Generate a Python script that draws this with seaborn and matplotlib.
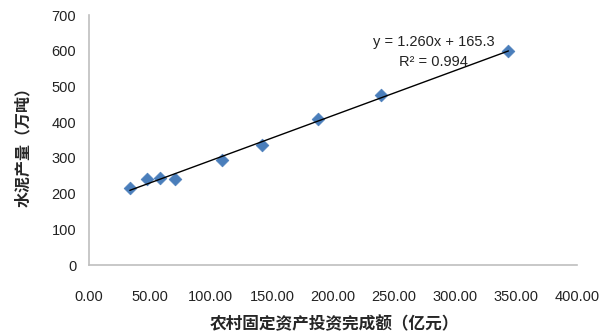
import matplotlib
matplotlib.use("Agg")
import matplotlib.pyplot as plt
import numpy as np
import pandas as pd
import seaborn as sns

# investment (100M yuan) vs cement output (10k t)
invest = [33.6, 47.3, 58.4, 70.5, 108.8, 142.0, 188.0, 239.3, 343.7]
cement = [215, 241, 243, 242, 294, 335, 409, 476, 599]

x_ticks = [0, 50, 100, 150, 200, 250, 300, 350, 400]
y_ticks = [0, 100, 200, 300, 400, 500, 600, 700]

eq_text = "y = 1.260x + 165.3"
r2_text = "R² = 0.994"
x_label = "农村固定资产投资完成额（亿元）"
y_label = "水泥产量（万吨）"

sns.set_style("white")
plt.rcParams["font.family"] = ["Liberation Sans", "DejaVu Sans"]

df = pd.DataFrame({"invest": invest, "cement": cement})

fig = plt.figure(figsize=(6, 3.36), dpi=100)
ax = fig.add_axes([0.148, 0.211, 0.814, 0.744])

# linear trend line over the data range
slope, icpt = np.polyfit(df["invest"], df["cement"], 1)
xs = np.array([df["invest"].min(), df["invest"].max()])
ax.plot(xs, slope * xs + icpt, color="black", lw=1.0, zorder=3)

sns.scatterplot(data=df, x="invest", y="cement", marker="D", s=42,
                color="#4A7EBB", edgecolor="#4A7EBB", linewidth=0.5,
                ax=ax, zorder=2)

ax.set_xlim(0, 400)
ax.set_ylim(0, 700)
ax.set_xticks(x_ticks)
ax.set_xticklabels([f"{v:.2f}" for v in x_ticks], fontsize=10.5, color="#222222")
ax.set_yticks(y_ticks)
ax.set_yticklabels([str(v) for v in y_ticks], fontsize=10.5, color="#222222")
ax.tick_params(axis="both", length=0)
ax.tick_params(axis="x", pad=18)
ax.tick_params(axis="y", pad=9)

for side in ["top", "right"]:
    ax.spines[side].set_visible(False)
for side in ["left", "bottom"]:
    ax.spines[side].set_color("#BFBFBF")
    ax.spines[side].set_linewidth(1.2)

cjk = ["Noto Sans CJK SC", "DejaVu Sans"]
ax.set_xlabel(x_label, family=cjk, fontsize=12, fontweight="bold")
ax.set_ylabel(y_label, family=cjk, fontsize=11.5, fontweight="bold")
ax.xaxis.set_label_coords(0.502, -0.2)
ax.yaxis.set_label_coords(-0.118, 0.49)

ax.text(0.706, 0.893, eq_text, transform=ax.transAxes, ha="center",
        va="center", fontsize=10.5, color="#222222")
ax.text(0.706, 0.813, r2_text, transform=ax.transAxes, ha="center",
        va="center", fontsize=10.5, color="#222222")

fig.savefig("out.png", dpi=100)
